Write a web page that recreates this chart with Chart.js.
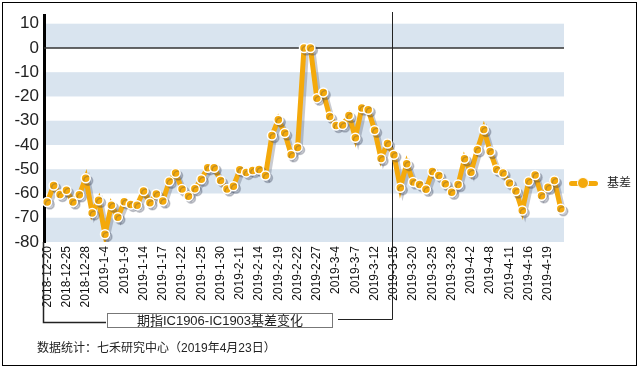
<!DOCTYPE html>
<html>
<head>
<meta charset="utf-8">
<script src="https://cdn.jsdelivr.net/npm/chart.js@4.4.1/dist/chart.umd.min.js"></script>
<style>
  body { margin: 0; background: #fff; }
  #wrap { position: relative; width: 641px; height: 368px; font-family: 'Liberation Sans', 'Noto Sans CJK SC', sans-serif; color: #222; }
  #chart { position: absolute; left: 0; top: 0; }
  .title-box { position: absolute; left: 107px; top: 313px; width: 226px; height: 15px; box-sizing: border-box; border: 1px solid #777; font-size: 13px; line-height: 13px; text-align: center; }
  .note { position: absolute; left: 37px; top: 341px; font-size: 12px; line-height: 14px; }
  .leg-line { position: absolute; left: 569px; top: 181px; width: 29px; height: 5px; border-radius: 3px; background: #F4A90B; }
  .leg-dot { position: absolute; left: 577px; top: 177px; width: 12px; height: 12px; border-radius: 50%; box-sizing: border-box; border: 1.5px solid #fff; background: #F4A90B; }
  .leg-text { position: absolute; left: 607px; top: 176px; font-size: 12px; line-height: 14px; }
</style>
</head>
<body>
<div id="wrap">
  <canvas id="chart" width="641" height="368"></canvas>
  <div class="title-box">期指IC1906-IC1903基差变化</div>
  <div class="note">数据统计：七禾研究中心（2019年4月23日）</div>
  <div class="leg-line"></div>
  <div class="leg-dot"></div>
  <div class="leg-text">基差</div>
</div>
<script>
// trading days shown on the x axis (every 3rd gets a label)
const dates = [
  '2018-12-20','2018-12-21','2018-12-24','2018-12-25','2018-12-26','2018-12-27','2018-12-28',
  '2019-1-2','2019-1-3','2019-1-4','2019-1-7','2019-1-8','2019-1-9','2019-1-10','2019-1-11',
  '2019-1-14','2019-1-15','2019-1-16','2019-1-17','2019-1-18','2019-1-21','2019-1-22','2019-1-23',
  '2019-1-24','2019-1-25','2019-1-28','2019-1-29','2019-1-30','2019-1-31','2019-2-1',
  '2019-2-11','2019-2-12','2019-2-13','2019-2-14','2019-2-15','2019-2-18','2019-2-19','2019-2-20',
  '2019-2-21','2019-2-22','2019-2-25','2019-2-26','2019-2-27','2019-2-28',
  '2019-3-1','2019-3-4','2019-3-5','2019-3-6','2019-3-7','2019-3-8','2019-3-11','2019-3-12',
  '2019-3-13','2019-3-14','2019-3-15','2019-3-18','2019-3-19','2019-3-20','2019-3-21','2019-3-22',
  '2019-3-25','2019-3-26','2019-3-27','2019-3-28','2019-3-29',
  '2019-4-1','2019-4-2','2019-4-3','2019-4-4','2019-4-8','2019-4-9','2019-4-10','2019-4-11',
  '2019-4-12','2019-4-15','2019-4-16','2019-4-17','2019-4-18','2019-4-19','2019-4-22','2019-4-23'
];

// 基差 values
const basis = [
  -63.5, -56.7, -60.4, -58.7, -63.5, -60.5, -53.7, -68.0, -62.8, -76.8,
  -64.8, -69.8, -63.4, -64.5, -64.8, -59.0, -63.8, -60.2, -63.1, -55.0,
  -51.6, -58.2, -61.1, -58.0, -54.1, -49.4, -49.4, -54.6, -58.2, -57.0,
  -50.2, -51.3, -50.5, -50.1, -52.6, -36.1, -29.6, -35.1, -44.0, -41.0,
  0, 0, -20.7, -18.4, -28.3, -32.0, -31.8, -27.9, -37.0, -24.8,
  -25.5, -33.9, -45.6, -39.4, -44.0, -57.6, -47.7, -55.3, -56.3, -58.3,
  -50.9, -52.6, -56.0, -59.5, -56.3, -45.7, -51.2, -42.0, -33.6, -42.7,
  -50.1, -51.6, -55.7, -59.0, -67.0, -55.0, -52.4, -60.9, -57.4, -54.6,
  -66.3
];

const yTicks = [10, 0, -10, -20, -30, -40, -50, -60, -70, -80];
const bandStarts = [0, -20, -40, -60, -80];   // shaded from value up to value+10
const markerDate = '2019-3-15';

const orange = '#F4A90B';

const decorations = {
  id: 'decorations',
  beforeDraw(chart) {
    const { ctx, chartArea: a, scales: { y } } = chart;
    ctx.save();
    ctx.fillStyle = '#D9E4EF';
    bandStarts.forEach(v => {
      const top = y.getPixelForValue(v + 10);
      const bot = y.getPixelForValue(v);
      ctx.fillRect(a.left, top, a.right - a.left, bot - top);
    });
    ctx.restore();
  },
  beforeDatasetsDraw(chart) {
    const { ctx, chartArea: a, scales: { x, y } } = chart;
    ctx.save();
    // zero line
    ctx.strokeStyle = '#333';
    ctx.lineWidth = 1.5;
    const y0 = y.getPixelForValue(0);
    ctx.beginPath();
    ctx.moveTo(a.left, y0);
    ctx.lineTo(a.right, y0);
    ctx.stroke();

    // bracket lines down to the caption box
    ctx.strokeStyle = '#222';
    ctx.lineWidth = 1;
    const xm = Math.floor(x.getPixelForValue(dates.indexOf(markerDate))) - 0.5;
    ctx.beginPath();
    ctx.moveTo(xm, 12);
    ctx.lineTo(xm, 319.5);
    ctx.lineTo(338, 319.5);
    ctx.stroke();

    ctx.lineWidth = 1.5;
    ctx.beginPath();
    ctx.moveTo(a.left - 0.5, a.bottom);
    ctx.lineTo(a.left - 0.5, 322.5);
    ctx.lineTo(106, 322.5);
    ctx.stroke();

    // shadow for the line
    ctx.restore();
    ctx.save();
    ctx.shadowColor = 'rgba(60,70,90,0.28)';
    ctx.shadowOffsetX = 2.5;
    ctx.shadowOffsetY = 2.5;
  },
  afterDatasetsDraw(chart) {
    chart.ctx.restore();
  },
  afterDraw(chart) {
    const ctx = chart.ctx;
    ctx.save();
    ctx.strokeStyle = '#000';
    ctx.lineWidth = 1;
    ctx.strokeRect(2.5, 2.5, 634, 363);
    ctx.restore();
  }
};

new Chart(document.getElementById('chart'), {
  type: 'line',
  data: {
    labels: dates,
    datasets: [{
      label: '基差',
      data: basis,
      borderColor: orange,
      backgroundColor: orange,
      borderWidth: 5,
      pointRadius: 4.5,
      pointBorderColor: '#fff',
      pointBorderWidth: 1.5,
      pointBackgroundColor: orange,
      tension: 0,
    }],
  },
  options: {
    responsive: false,
    animation: false,
    devicePixelRatio: 1,
    layout: { padding: { top: 14, right: 77, left: 0, bottom: 0 } },
    plugins: {
      legend: { display: false },
      tooltip: { enabled: false },
    },
    scales: {
      x: {
        offset: true,
        grid: { display: false, drawTicks: false },
        border: { display: false },
        ticks: {
          autoSkip: false,
          minRotation: 90,
          maxRotation: 90,
          padding: 4,
          color: '#111',
          font: { family: "'Liberation Sans', Arial", size: 12 },
          callback: (v, i) => (i % 3 === 0 ? dates[i] : null),
        },
        afterFit(s) { s.height = 126; },
      },
      y: {
        min: -80,
        max: 13.5,
        grid: { display: false, drawTicks: false },
        border: { display: true, color: '#000', width: 3 },
        ticks: {
          stepSize: 10,
          padding: 5,
          color: '#222',
          font: { family: "'Liberation Sans', Arial", size: 17 },
        },
        afterBuildTicks(s) {
          s.ticks = yTicks.map(v => ({ value: v }));
        },
        afterFit(s) { s.width = 44; },
      },
    },
  },
  plugins: [decorations],
});
</script>
</body>
</html>
